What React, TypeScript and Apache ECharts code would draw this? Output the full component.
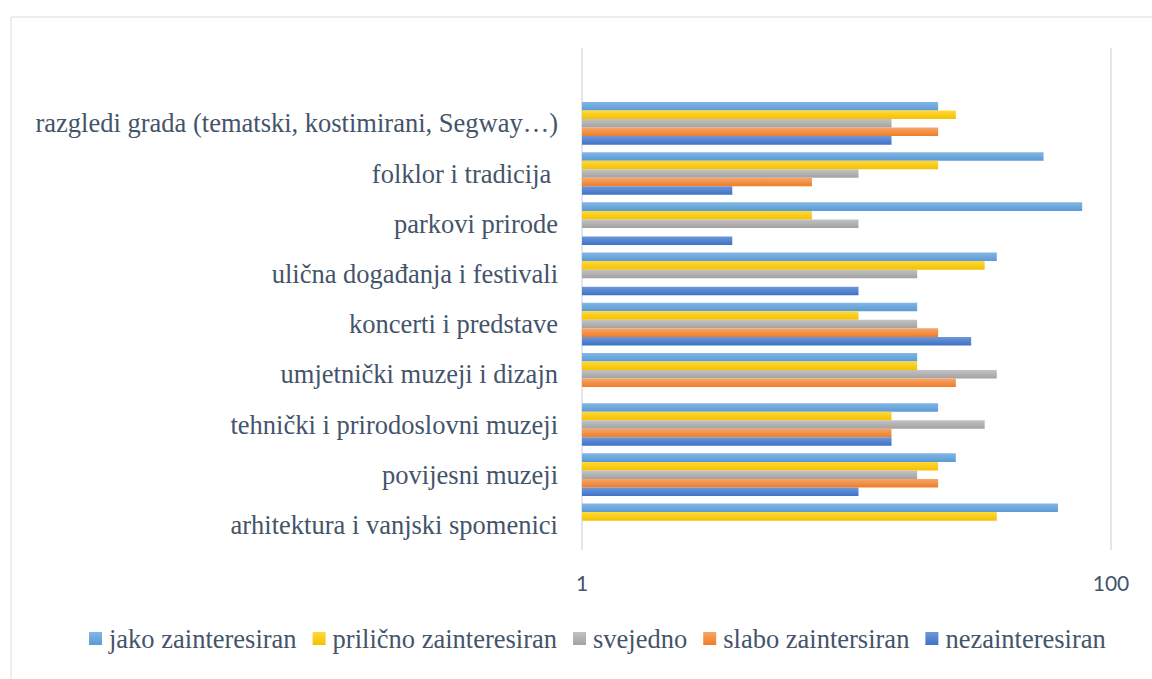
import React, { useEffect, useRef } from "react";
import * as echarts from "echarts";

const categories = [
  "arhitektura i vanjski spomenici",
  "povijesni muzeji",
  "tehnički i prirodoslovni muzeji",
  "umjetnički muzeji i dizajn",
  "koncerti i predstave",
  "ulična događanja i festivali",
  "parkovi prirode",
  "folklor i tradicija ",
  "razgledi grada (tematski, kostimirani, Segway…)",
  "",
];

const seriesNames = [
  "jako zainteresiran",
  "prilično zainteresiran",
  "svejedno",
  "slabo zaintersiran",
  "nezainteresiran",
];

const jako = [63.0, 25.9, 22.2, 18.5, 18.5, 37.0, 77.8, 55.6, 22.2, null];
const prilicno = [37.0, 22.2, 14.8, 18.5, 11.1, 33.3, 7.4, 22.2, 25.9, null];
const svejedno = [null, 18.5, 33.3, 37.0, 18.5, 18.5, 11.1, 11.1, 14.8, null];
const slabo = [null, 22.2, 14.8, 25.9, 22.2, null, null, 7.4, 22.2, null];
const nezainteresiran = [null, 11.1, 14.8, null, 29.6, 11.1, 3.7, 3.7, 14.8, null];

const xTicks = [1, 100];

const gradients: [string, string][] = [
  ["#82b6e4", "#5a9bd4"],
  ["#ffd93c", "#f4c000"],
  ["#c2c2c2", "#a2a2a2"],
  ["#f7a56a", "#ee7d25"],
  ["#7096d8", "#3c73c6"],
];

const TEXT = "#44546a";
const SERIF = "Liberation Serif";

export default function App() {
  const ref = useRef<HTMLDivElement>(null);
  useEffect(() => {
    if (!ref.current) return;
    const chart = echarts.init(ref.current, null, { renderer: "svg" });
    const allData = [jako, prilicno, svejedno, slabo, nezainteresiran];
    chart.setOption({
      animation: false,
      backgroundColor: "#ffffff",
      graphic: [
        {
          type: "rect",
          shape: { x: 11, y: 17, width: 1160, height: 680 },
          style: { fill: "none", stroke: "#dcdcdc", lineWidth: 1 },
          silent: true,
          z: -1,
        },
      ],
      grid: { left: 582, right: 41, top: 48, bottom: 129, containLabel: false },
      xAxis: {
        type: "log",
        logBase: 10,
        min: xTicks[0],
        max: xTicks[xTicks.length - 1],
        interval: 2,
        axisLine: { show: false },
        axisTick: { show: false },
        splitLine: { show: true, lineStyle: { color: "#e3e6ec", width: 2 } },
        axisLabel: {
          color: TEXT,
          fontFamily: "Lato",
          fontSize: 21,
          margin: 22,
          formatter: (v: number) => String(Math.round(v)),
        },
      },
      yAxis: {
        type: "category",
        data: categories,
        axisLine: { show: false },
        axisTick: { show: false },
        splitLine: { show: false },
        axisLabel: {
          color: TEXT,
          fontFamily: SERIF,
          fontSize: 26.5,
          margin: 24,
        },
      },
      legend: {
        bottom: 22,
        left: 84,
        icon: "rect",
        itemWidth: 13,
        itemHeight: 13,
        itemGap: 16,
        textStyle: { color: TEXT, fontFamily: SERIF, fontSize: 26.5, padding: [0, 0, 0, 2] },
        data: seriesNames,
      },
      series: seriesNames.map((name, i) => ({
        name,
        type: "bar",
        data: allData[i],
        barGap: "0%",
        barCategoryGap: "15%",
        itemStyle: {
          color: new echarts.graphic.LinearGradient(0, 0, 0, 1, [
            { offset: 0, color: gradients[i][0] },
            { offset: 1, color: gradients[i][1] },
          ]),
        },
      })),
    });
    return () => chart.dispose();
  }, []);
  return (
    <div
      ref={ref}
      style={{ position: "absolute", left: 0, top: 0, width: 1152, height: 679 }}
    />
  );
}
